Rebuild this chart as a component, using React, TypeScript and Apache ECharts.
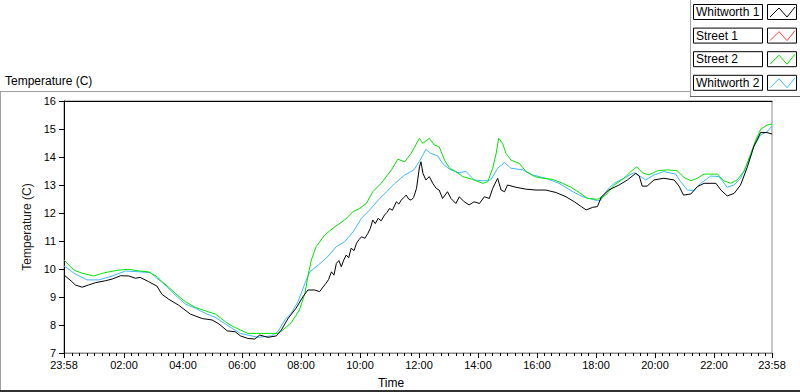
import React, { useEffect, useRef } from "react";
import * as echarts from "echarts";

// minutes since the chart start (23:58)
const whitworth1Time = [0,16,23,37,50,64,84,98,115,132,145,155,172,189,199,213,233,257,281,301,315,332,348,359,374,388,398,415,432,442,456,472,486,496,510,520,527,533,538,544,549,554,559,564,569,574,579,584,590,595,600,605,612,618,623,628,633,639,645,652,657,662,668,676,681,686,691,696,701,706,711,717,723,726,730,736,743,750,757,763,770,780,787,797,804,814,824,834,845,855,865,872,882,889,896,902,919,940,960,980,1001,1021,1038,1052,1062,1075,1085,1093,1108,1129,1146,1163,1170,1176,1186,1200,1220,1241,1251,1260,1275,1288,1302,1326,1336,1349,1363,1376,1390,1403,1417,1430,1440];
const whitworth1Temp = [9.79,9.55,9.43,9.35,9.43,9.51,9.58,9.64,9.76,9.75,9.67,9.7,9.55,9.39,9.1,8.92,8.71,8.39,8.23,8.18,8.04,7.79,7.76,7.61,7.52,7.5,7.64,7.56,7.61,7.82,8.24,8.6,9.01,9.25,9.25,9.19,9.36,9.49,9.62,9.9,9.78,10.2,10.3,10.08,10.32,10.5,10.4,10.74,10.66,10.92,11.05,11.15,11.1,11.27,11.45,11.75,11.62,11.81,11.72,11.93,12.02,12.16,12.1,12.4,12.32,12.46,12.55,12.64,12.5,12.46,12.55,12.88,13.65,13.83,13.42,13.18,13.3,13.06,12.88,12.82,12.52,12.76,12.52,12.34,12.58,12.4,12.29,12.4,12.34,12.58,12.52,12.88,13.24,12.82,12.76,13.0,12.92,12.85,12.82,12.82,12.73,12.58,12.4,12.23,12.11,12.2,12.23,12.58,12.82,13.0,13.18,13.42,13.32,12.96,12.96,13.18,13.24,13.18,12.96,12.64,12.68,12.94,13.06,13.06,12.82,12.61,12.7,13.0,13.65,14.37,14.88,14.87,14.82];

const street1Time: number[] = [];
const street1Temp: number[] = [];

const street2Time = [0,20,37,60,83,111,132,152,172,189,199,213,230,247,267,287,308,328,342,359,374,391,435,445,462,479,490,496,503,513,530,551,571,588,601,615,628,645,666,679,693,706,723,730,743,753,763,774,784,797,811,831,852,862,872,879,884,892,899,909,926,940,957,974,994,1014,1031,1048,1065,1085,1102,1119,1139,1153,1165,1176,1190,1207,1227,1247,1261,1275,1288,1302,1329,1342,1356,1369,1383,1397,1407,1417,1430,1440];
const street2Temp = [10.32,9.96,9.85,9.75,9.87,9.96,9.99,9.93,9.9,9.73,9.55,9.35,9.07,8.83,8.63,8.51,8.39,8.12,7.96,7.82,7.7,7.7,7.7,7.82,8.08,8.54,9.13,9.73,10.32,10.8,11.21,11.51,11.75,12.05,12.16,12.34,12.76,13.06,13.54,13.92,13.83,14.13,14.67,14.49,14.67,14.43,14.37,13.89,13.6,13.48,13.3,13.2,13.06,13.12,13.6,14.13,14.67,14.49,14.13,13.89,13.77,13.48,13.3,13.24,13.2,13.06,12.92,12.73,12.52,12.49,12.64,13.0,13.24,13.48,13.65,13.44,13.36,13.51,13.54,13.51,13.27,13.15,13.24,13.39,13.39,13.15,13.06,13.18,13.48,14.13,14.61,14.99,15.14,15.18];

const whitworth2Time = [0,23,47,71,98,125,152,176,189,206,226,247,267,287,308,328,342,359,374,395,422,435,449,462,476,490,500,517,533,554,571,588,605,622,639,656,673,693,706,712,723,736,746,760,770,784,801,818,834,852,868,882,896,909,933,953,980,1007,1035,1055,1085,1092,1105,1119,1142,1159,1173,1183,1200,1220,1244,1254,1268,1281,1295,1315,1332,1349,1363,1376,1390,1403,1417,1430,1440];
const whitworth2Temp = [10.11,9.82,9.61,9.61,9.75,9.93,9.9,9.87,9.67,9.43,9.07,8.75,8.6,8.42,8.27,8.04,7.88,7.7,7.64,7.56,7.61,7.76,8.18,8.42,8.83,9.49,9.9,10.14,10.38,10.8,10.98,11.33,11.81,12.11,12.46,12.76,13.06,13.36,13.48,13.55,13.85,14.27,14.13,14.04,13.77,13.56,13.44,13.48,13.18,13.15,13.18,13.6,13.8,13.6,13.54,13.36,13.24,13.06,12.76,12.58,12.44,12.46,12.82,13.06,13.27,13.44,13.3,13.18,13.36,13.48,13.39,13.12,12.82,12.8,13.06,13.32,13.3,12.92,13.0,13.24,13.77,14.37,14.79,14.9,15.11];

const seriesNames = ["Whitworth 1", "Street 1", "Street 2", "Whitworth 2"];
const seriesColors = ["#000000", "#ff3c3c", "#00e400", "#3db8ff"];

// x tick labels (minutes since start) and their text
const xLabelMinutes = [0, 122, 242, 362, 482, 602, 722, 842, 962, 1082, 1202, 1322, 1440];
const xLabelTexts = ["23:58", "02:00", "04:00", "06:00", "08:00", "10:00", "12:00", "14:00", "16:00", "18:00", "20:00", "22:00", "23:58"];

const yMin = 7;
const yMax = 16;
const yStep = 1;

const FONT = "Liberation Sans, Arial, sans-serif";

function zip(t: number[], v: number[]) {
  return t.map((x, i) => [x, v[i]]);
}

export default function App() {
  const ref = useRef<HTMLDivElement>(null);
  useEffect(() => {
    document.body.style.margin = "0";
    if (!ref.current) return;
    const chart = echarts.init(ref.current, undefined, { renderer: "svg" });

    const minorTicks: number[] = [];
    for (let m = 15; m < 1438; m += 15) {
      if (m % 120 !== 0) minorTicks.push(m + 2);
    }

    const seriesData = [
      zip(whitworth1Time, whitworth1Temp),
      zip(street1Time, street1Temp),
      zip(street2Time, street2Temp),
      zip(whitworth2Time, whitworth2Temp),
    ];
    const drawOrder = [3, 2, 1, 0];

    const legendGraphics: any[] = [];
    seriesNames.forEach((name, i) => {
      const top = 4 + i * 23.6;
      legendGraphics.push({
        type: "rect",
        shape: { x: 693.5, y: top + 0.5, width: 69, height: 15 },
        style: { fill: "#ffffff", stroke: "#000000", lineWidth: 1 },
      });
      legendGraphics.push({
        type: "text",
        x: 696,
        y: top + 8,
        style: { text: name, fill: "#000000", font: `12px ${FONT}`, textVerticalAlign: "middle", textAlign: "left" },
      });
      legendGraphics.push({
        type: "rect",
        shape: { x: 767.5, y: top + 0.5, width: 29, height: 15 },
        style: { fill: "#ffffff", stroke: "#000000", lineWidth: 1 },
      });
      legendGraphics.push({
        type: "polyline",
        shape: { points: [[770, top + 13], [779, top + 4], [787, top + 13], [795, top + 3]] },
        style: { stroke: seriesColors[i], lineWidth: 1, fill: "none" },
      });
    });

    chart.setOption({
      animation: false,
      backgroundColor: "#ffffff",
      textStyle: { fontFamily: FONT },
      grid: {
        left: 64,
        top: 101,
        width: 708,
        height: 252,
        show: true,
        borderColor: "#8a8a8a",
        borderWidth: 1,
        backgroundColor: "#ffffff",
      },
      xAxis: [
        {
          type: "value",
          min: 0,
          max: 1440,
          position: "bottom",
          axisLine: { show: true, lineStyle: { color: "#8a8a8a", width: 1 } },
          axisTick: { show: true, customValues: xLabelMinutes, length: 5, lineStyle: { color: "#000000" } },
          axisLabel: {
            show: true,
            customValues: xLabelMinutes,
            formatter: (v: number) => xLabelTexts[xLabelMinutes.indexOf(v)] ?? "",
            color: "#000000",
            fontSize: 11,
            fontFamily: FONT,
            margin: 6,
          },
          splitLine: { show: false },
        },
        {
          type: "value",
          min: 0,
          max: 1440,
          position: "bottom",
          axisLine: { show: false },
          axisTick: { show: true, customValues: minorTicks, length: 3, lineStyle: { color: "#000000" } },
          axisLabel: { show: false },
          splitLine: { show: false },
        },
        {
          type: "value",
          min: 0,
          max: 1440,
          position: "top",
          axisLine: { show: true, lineStyle: { color: "#000000", width: 1 } },
          axisTick: { show: false },
          axisLabel: { show: false },
          splitLine: { show: false },
        },
      ],
      yAxis: [
        {
          type: "value",
          min: yMin,
          max: yMax,
          interval: yStep,
          name: "Temperature (C)",
          nameLocation: "middle",
          nameGap: 25,
          nameTextStyle: { color: "#1a1a1a", fontSize: 12, fontFamily: FONT },
          axisLine: { show: true, lineStyle: { color: "#000000", width: 1 } },
          axisTick: { show: true, length: 5, lineStyle: { color: "#000000" } },
          axisLabel: { color: "#000000", fontSize: 11, fontFamily: FONT, margin: 8 },
          splitLine: { show: false },
        },
      ],
      series: drawOrder.map((i) => ({
        name: seriesNames[i],
        type: "line",
        xAxisIndex: 0,
        yAxisIndex: 0,
        data: seriesData[i],
        showSymbol: false,
        symbol: "none",
        lineStyle: { color: seriesColors[i], width: 1 },
        itemStyle: { color: seriesColors[i] },
      })),
      graphic: [
        {
          type: "text",
          x: 5,
          y: 75,
          style: { text: "Temperature (C)", fill: "#000000", font: `12px ${FONT}` },
        },
        {
          type: "text",
          x: 391,
          y: 377,
          style: { text: "Time", fill: "#000000", font: `12px ${FONT}`, textAlign: "center" },
        },
        { type: "line", shape: { x1: 0, y1: 91.5, x2: 690, y2: 91.5 }, style: { stroke: "#a0a0a0", lineWidth: 1 } },
        { type: "line", shape: { x1: 0.5, y1: 91, x2: 0.5, y2: 392 }, style: { stroke: "#a0a0a0", lineWidth: 1 } },
        { type: "line", shape: { x1: 0, y1: 391, x2: 800, y2: 391 }, style: { stroke: "#303030", lineWidth: 2 } },
        { type: "line", shape: { x1: 690.5, y1: 0, x2: 690.5, y2: 97 }, style: { stroke: "#a0a0a0", lineWidth: 1 } },
        { type: "line", shape: { x1: 690, y1: 96.5, x2: 800, y2: 96.5 }, style: { stroke: "#606060", lineWidth: 1 } },
        ...legendGraphics,
      ],
    });
    return () => chart.dispose();
  }, []);
  return <div ref={ref} style={{ position: "fixed", left: 0, top: 0, width: 800, height: 392 }} />;
}
